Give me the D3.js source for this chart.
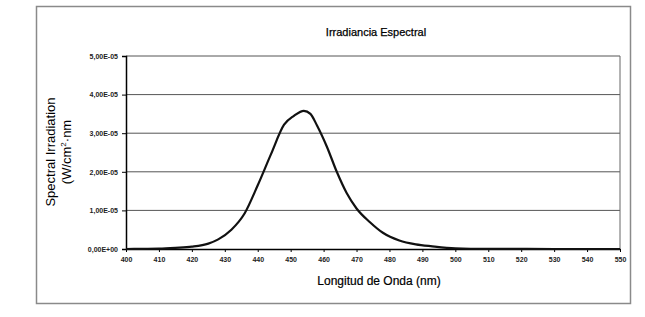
<!DOCTYPE html>
<html>
<head>
<meta charset="utf-8">
<script src="https://cdn.jsdelivr.net/npm/d3@7"></script>
<style>
  body { margin: 0; background: #fff; }
  text { font-family: "Liberation Sans", Arial, sans-serif; }
</style>
</head>
<body>
<script>
var width = 645,
    height = 317;

// longitud de onda (nm) y irradiancia (unidades de 1E-05 W/cm2·nm)
var wavelengths = [400, 405, 410, 415, 420, 425, 428, 432, 436, 440, 444, 448, 451, 454, 456, 458, 461, 464, 467, 470, 474, 478, 483, 488, 493, 500, 510, 520, 530, 540, 550];
var irradiance  = [0, 0.005, 0.01, 0.03, 0.06, 0.14, 0.25, 0.5, 0.92, 1.65, 2.45, 3.22, 3.45, 3.58, 3.5, 3.2, 2.65, 2.0, 1.45, 1.05, 0.7, 0.42, 0.22, 0.12, 0.07, 0.02, 0.005, 0.003, 0, 0, 0];
var xTicks = [400, 410, 420, 430, 440, 450, 460, 470, 480, 490, 500, 510, 520, 530, 540, 550];
var xTickLabels = ['400', '410', '420', '430', '440', '450', '460', '470', '480', '490', '500', '510', '520', '530', '540', '550'];
var yTicks = [0, 1e-5, 2e-5, 3e-5, 4e-5, 5e-5];
var yTickLabels = ['0,00E+00', '1,00E-05', '2,00E-05', '3,00E-05', '4,00E-05', '5,00E-05'];

var plot = { left: 126, right: 620, top: 56, bottom: 249 };

var svg = d3.select('body').append('svg')
  .attr('width', width)
  .attr('height', height);

// marco exterior
svg.append('rect')
  .attr('x', 36.5).attr('y', 6.5)
  .attr('width', 594).attr('height', 297)
  .attr('fill', 'none')
  .attr('stroke', '#8a8a8a')
  .attr('stroke-width', 1.5);

var x = d3.scaleLinear().domain([400, 550]).range([plot.left, plot.right]);
var y = d3.scaleLinear().domain([0, 5e-5]).range([plot.bottom, plot.top]);

// lineas de division
svg.selectAll('line.grid')
  .data(yTicks.slice(1))
  .enter()
  .append('line')
  .attr('class', 'grid')
  .attr('x1', plot.left).attr('x2', plot.right)
  .attr('y1', function(d) { return y(d); })
  .attr('y2', function(d) { return y(d); })
  .attr('stroke', '#555')
  .attr('stroke-width', 1);

// borde derecho del area de trazado
svg.append('line')
  .attr('x1', plot.right).attr('x2', plot.right)
  .attr('y1', plot.top).attr('y2', plot.bottom)
  .attr('stroke', '#666');

// eje Y
var yAxis = d3.axisLeft(y)
  .tickValues(yTicks)
  .tickSize(4)
  .tickFormat(function(d, i) { return yTickLabels[i]; });

var gy = svg.append('g')
  .attr('transform', 'translate(' + plot.left + ',0)')
  .call(yAxis);
gy.select('.domain').attr('stroke', '#000').attr('stroke-width', 1.5);
gy.selectAll('.tick line').attr('stroke', '#000');
gy.selectAll('.tick text')
  .attr('x', -8)
  .attr('font-size', '7px')
  .attr('font-weight', 'bold')
  .attr('fill', '#222');

// eje X
var xAxis = d3.axisBottom(x)
  .tickValues(xTicks)
  .tickSize(3)
  .tickSizeOuter(0)
  .tickFormat(function(d, i) { return xTickLabels[i]; });

var gx = svg.append('g')
  .attr('transform', 'translate(0,' + plot.bottom + ')')
  .call(xAxis);
gx.select('.domain').attr('stroke', '#000').attr('stroke-width', 1.5);
gx.selectAll('.tick line').attr('stroke', '#000');
gx.selectAll('.tick text')
  .attr('y', 8)
  .attr('font-size', '7px')
  .attr('font-weight', 'bold')
  .attr('fill', '#222');

// curva
var line = d3.line()
  .x(function(d, i) { return x(wavelengths[i]); })
  .y(function(d) { return y(d * 1e-5); })
  .curve(d3.curveMonotoneX);

svg.append('path')
  .datum(irradiance)
  .attr('d', line)
  .attr('fill', 'none')
  .attr('stroke', '#111')
  .attr('stroke-width', 2.2)
  .attr('stroke-linejoin', 'round');

// titulos
svg.append('text')
  .attr('x', 376).attr('y', 36)
  .attr('text-anchor', 'middle')
  .attr('font-size', '11px')
  .attr('fill', '#000')
  .attr('stroke', '#000')
  .attr('stroke-width', 0.25)
  .text('Irradiancia Espectral');

svg.append('text')
  .attr('x', 379).attr('y', 285)
  .attr('text-anchor', 'middle')
  .attr('font-size', '12px')
  .attr('fill', '#000')
  .attr('stroke', '#000')
  .attr('stroke-width', 0.2)
  .text('Longitud de Onda (nm)');

var yTitle = svg.append('text')
  .attr('transform', 'translate(55,152) rotate(-90)')
  .attr('text-anchor', 'middle')
  .attr('font-size', '13px')
  .attr('fill', '#000');
yTitle.append('tspan').attr('x', 0).attr('dy', 0).text('Spectral Irradiation');
var t2 = yTitle.append('tspan').attr('x', 0).attr('dy', 16).text('(W/cm');
t2.append('tspan').attr('font-size', '8px').attr('dy', -5).text('2');
t2.append('tspan').attr('dy', 5).text('·nm');
</script>
</body>
</html>
